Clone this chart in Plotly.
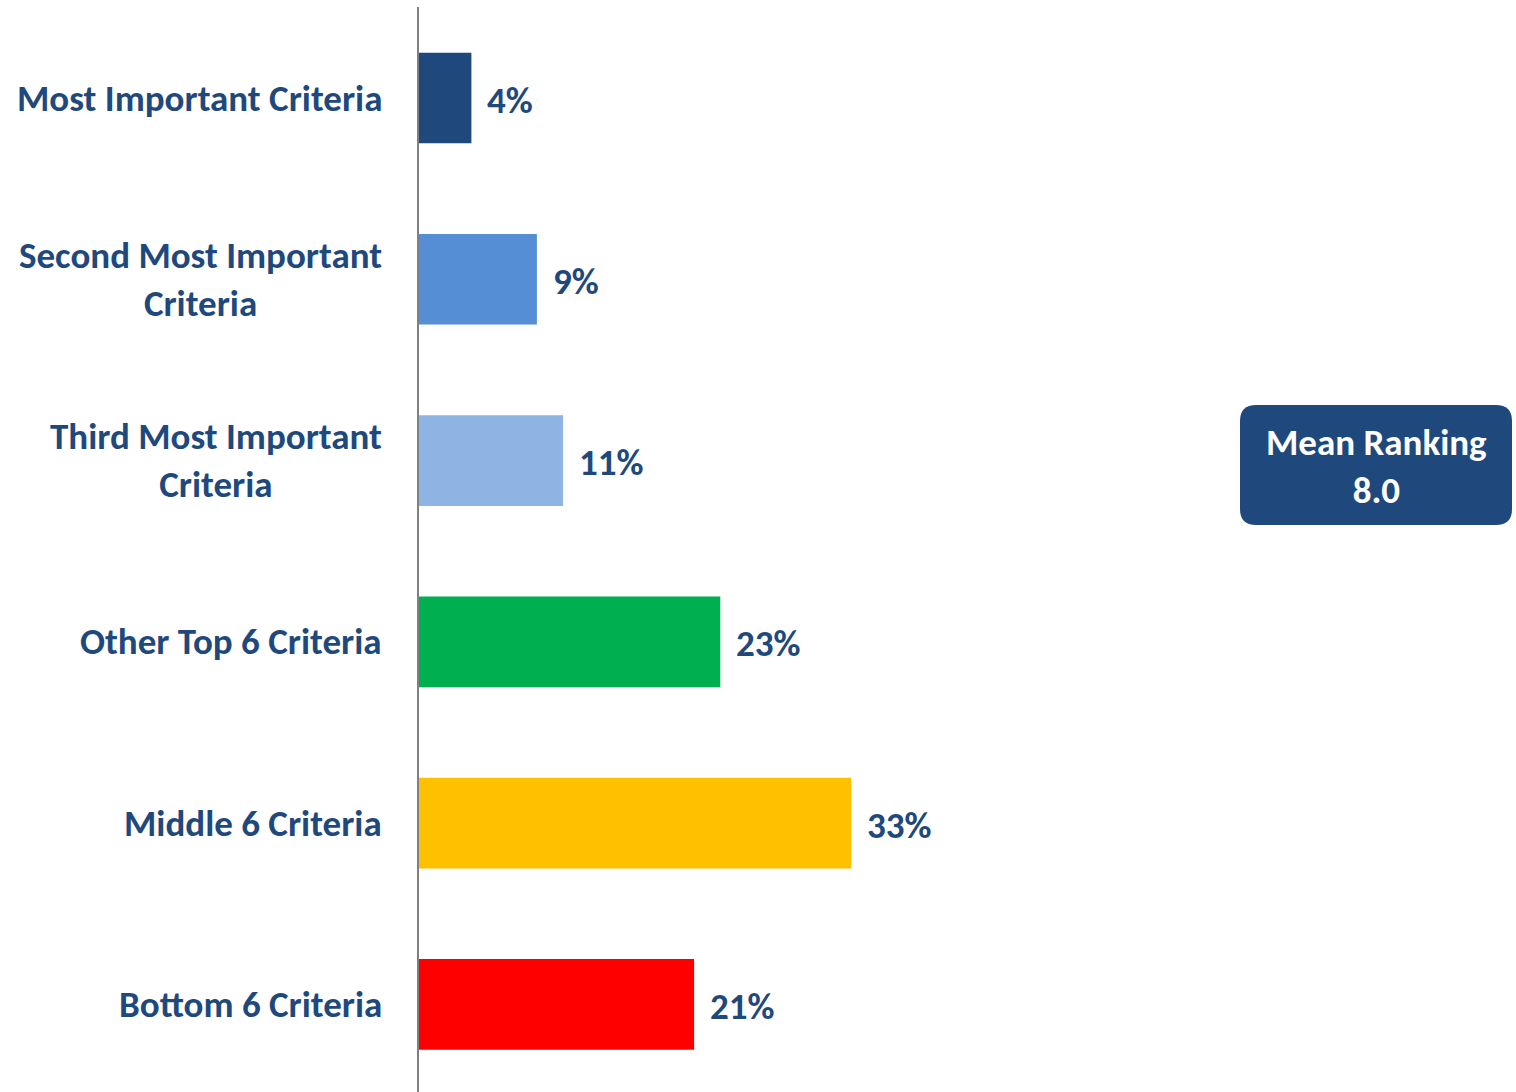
import plotly.graph_objects as go

# Share of respondents by ranking band
categories = [
    "Most Important Criteria",
    "Second Most Important<br>Criteria",
    "Third Most Important<br>Criteria",
    "Other Top 6 Criteria",
    "Middle 6 Criteria",
    "Bottom 6 Criteria",
]
values = [4, 9, 11, 23, 33, 21]
value_labels = ["4%", "9%", "11%", "23%", "33%", "21%"]
bar_colors = ["#1F497D", "#558ED5", "#8EB4E3", "#00B050", "#FFC000", "#FF0000"]
mean_ranking = "8.0"

NAVY = "#1F497D"
FONT = "Carlito, Lato, 'Open Sans', sans-serif"
FS = 37

W, H = 1516, 1092
ML, MR, MT, MB = 419, 0, 7, 0
plot_w = W - ML - MR
plot_h = H - MT - MB

positions = list(range(len(categories)))

fig = go.Figure(
    go.Bar(
        x=values,
        y=positions,
        orientation="h",
        width=0.5,
        marker=dict(color=bar_colors, line=dict(width=0)),
        hoverinfo="skip",
    )
)

annotations = []
for pos, cat, val, lab in zip(positions, categories, values, value_labels):
    annotations.append(dict(
        x=0, xref="paper", y=pos, yref="y", xshift=-35,
        xanchor="right", yanchor="middle", align="center",
        text=f"<b>{cat}</b>", showarrow=False,
        font=dict(family=FONT, size=FS, color=NAVY),
    ))
    annotations.append(dict(
        x=val, xref="x", y=pos, yref="y", xshift=14, yshift=-2,
        xanchor="left", yanchor="middle",
        text=f"<b>{lab}</b>", showarrow=False,
        font=dict(family=FONT, size=FS, color=NAVY),
    ))


def px_to_paper_x(px):
    return (px - ML) / plot_w


def px_to_paper_y(py):
    return (H - MB - py) / plot_h


# Rounded callout box for the mean ranking
bx0, bx1, by0, by1, r = 1240, 1512, 405, 525, 16
x0, x1 = px_to_paper_x(bx0), px_to_paper_x(bx1)
yt, yb = px_to_paper_y(by0), px_to_paper_y(by1)
rx, ry = r / plot_w, r / plot_h
path = (
    f"M {x0 + rx},{yt} L {x1 - rx},{yt} Q {x1},{yt} {x1},{yt - ry} "
    f"L {x1},{yb + ry} Q {x1},{yb} {x1 - rx},{yb} "
    f"L {x0 + rx},{yb} Q {x0},{yb} {x0},{yb + ry} "
    f"L {x0},{yt - ry} Q {x0},{yt} {x0 + rx},{yt} Z"
)
shapes = [dict(type="path", xref="paper", yref="paper", path=path,
               fillcolor=NAVY, line=dict(width=0), layer="above")]

annotations.append(dict(
    x=px_to_paper_x((bx0 + bx1) / 2), xref="paper",
    y=px_to_paper_y((by0 + by1) / 2 + 1), yref="paper",
    xanchor="center", yanchor="middle", align="center",
    text="<b>Mean Ranking</b><br><b>" + mean_ranking + "</b>",
    showarrow=False,
    font=dict(family=FONT, size=FS, color="white"),
))

fig.update_layout(
    width=W, height=H,
    margin=dict(l=ML, r=MR, t=MT, b=MB, pad=0),
    paper_bgcolor="white", plot_bgcolor="white",
    showlegend=False,
    xaxis=dict(range=[0, plot_w / 13.1], visible=False, fixedrange=True),
    yaxis=dict(
        range=[5.483, -0.502], showticklabels=False, ticks="",
        showgrid=False, zeroline=False, showline=True,
        linecolor="#808080", linewidth=2, fixedrange=True,
    ),
    shapes=shapes,
    annotations=annotations,
)

fig.write_html("out.html")
